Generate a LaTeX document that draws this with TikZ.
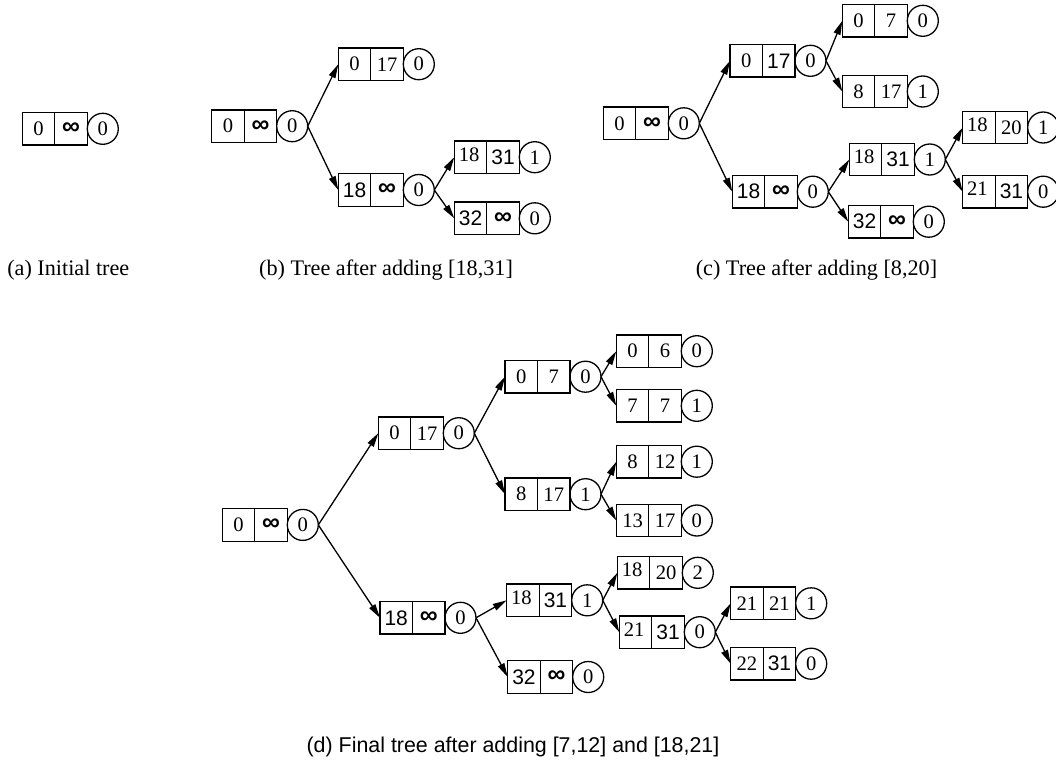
\documentclass[tikz,border=0pt]{standalone}
\usepackage{fontspec}
\setmainfont{Liberation Serif}
\newfontfamily\hv{Liberation Sans}
\usetikzlibrary{arrows.meta}
\newcommand\sn[1]{{\hv\fontsize{10.5}{12}\selectfont #1}}
\newcommand\oo{{\hv\bfseries\fontsize{12.5}{12}\selectfont ∞}}
\newcommand\up[1]{\hspace*{-1.5pt}\raisebox{1.3pt}[\height][\depth]{#1}}
\newcommand\tn[6]{%
  \node[cell, anchor=west] (#1) at (#2,#3) {#4};
  \node[cell, anchor=west] (#1r) at (#1.east) {#5};
  \node[circ, anchor=west] (#1c) at (#1r.east) {#6};}
\tikzset{
  cell/.style={draw, line width=0.65pt, minimum width=16.25pt, minimum height=16.25pt,
    inner sep=0pt, outer sep=0pt, font=\fontsize{10.3}{11}\selectfont},
  circ/.style={draw, circle, line width=0.65pt, minimum size=15.5pt,
    inner sep=0pt, outer sep=0pt, font=\fontsize{10.3}{11}\selectfont},
  arr/.style={-{Triangle[length=7pt,width=3.5pt]}, line width=0.65pt},
  captxt/.style={anchor=base, inner sep=0pt, font=\fontsize{11.1}{13}\selectfont},
  captxtd/.style={anchor=base, inner sep=0pt, font=\hv\fontsize{10.7}{13}\selectfont}
}
\begin{document}
\begin{tikzpicture}[x=0.5pt, y=-0.5pt]
\useasboundingbox (0,0) rectangle (1056,761);
% (a)
\tn{A}{22.3}{128.8}{0}{\oo}{0}
% (b)
\tn{B0}{211.7}{126.2}{0}{\oo}{0}
\tn{B1}{338.3}{64.2}{0}{17}{0}
\tn{B2}{338.3}{190}{\sn{18}}{\oo}{0}
\tn{B3}{454.3}{157.2}{\up{18}}{\sn{31}}{1}
\tn{B4}{454.3}{218.3}{\sn{32}}{\oo}{0}
\foreach \p/\c in {B0/B1,B0/B2,B2/B3,B2/B4} \draw[arr] (\p c.east) -- (\c.west);
% (c)
\tn{C0}{603.3}{123.3}{0}{\oo}{0}
\tn{C1}{730}{60.8}{0}{\sn{17}}{0}
\tn{C2}{732.3}{191.7}{\sn{18}}{\oo}{0}
\tn{C3}{842.3}{20.8}{0}{7}{0}
\tn{C4}{842.3}{91.5}{8}{17}{1}
\tn{C5}{849.3}{159.5}{\up{18}}{\sn{31}}{1}
\tn{C6}{848.3}{221.7}{\sn{32}}{\oo}{0}
\tn{C7}{962.7}{127.5}{\up{18}}{20}{1}
\tn{C8}{962.7}{191.7}{\up{21}}{\sn{31}}{0}
\foreach \p/\c in {C0/C1,C0/C2,C1/C3,C1/C4,C2/C5,C2/C6,C5/C7,C5/C8} \draw[arr] (\p c.east) -- (\c.west);
% (d)
\tn{D0}{222.3}{524.9}{0}{\oo}{0}
\tn{D1}{378.3}{433.2}{0}{17}{0}
\tn{D2}{380}{617.8}{\sn{18}}{\oo}{0}
\tn{D3}{505}{376.7}{0}{7}{0}
\tn{D4}{505}{494.2}{8}{17}{1}
\tn{D5}{616.3}{351.2}{0}{6}{0}
\tn{D6}{616.3}{405.8}{7}{7}{1}
\tn{D7}{616.3}{461.7}{8}{12}{1}
\tn{D8}{616.3}{520.5}{13}{17}{0}
\tn{D9}{506.7}{600.3}{\up{18}}{\sn{31}}{1}
\tn{D10}{507.7}{677}{\sn{32}}{\oo}{0}
\tn{D11}{617.3}{572.8}{\up{18}}{20}{2}
\tn{D12}{619.3}{632.2}{\up{21}}{\sn{31}}{0}
\tn{D13}{730.7}{603.3}{21}{21}{1}
\tn{D14}{730.7}{663.7}{22}{\sn{31}}{0}
\foreach \p/\c in {D0/D1,D0/D2,D1/D3,D1/D4,D3/D5,D3/D6,D4/D7,D4/D8,D2/D9,D2/D10,D9/D11,D9/D12,D12/D13,D12/D14} \draw[arr] (\p c.east) -- (\c.west);
% captions
\node[captxt] (capa) at (68.3,275) {(a) Initial tree};
\node[captxt] (capb) at (386,275) {(b) Tree after adding [18,31]};
\node[captxt] (capc) at (816.5,275) {(c) Tree after adding [8,20]};
\node[captxtd] (capd) at (513,752) {(d) Final tree after adding [7,12] and [18,21]};
\end{tikzpicture}
\end{document}
